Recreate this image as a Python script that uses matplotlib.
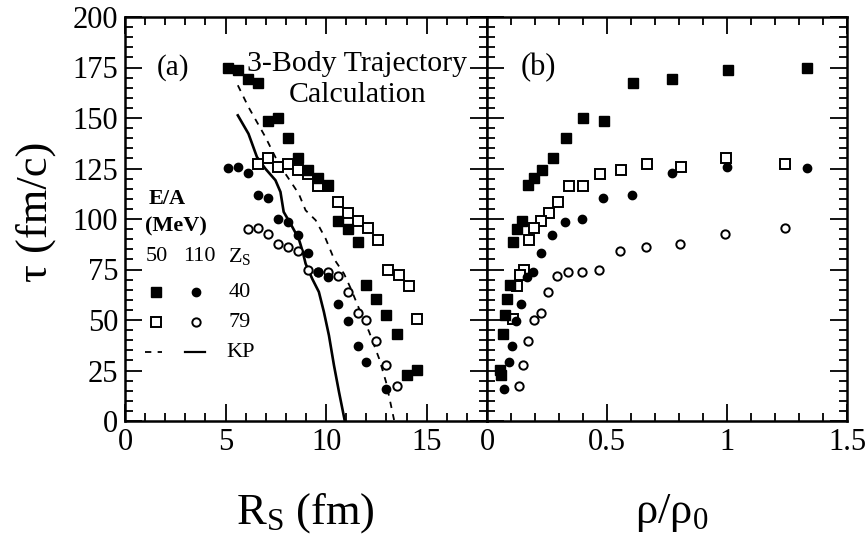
import numpy as np
import matplotlib.pyplot as plt
from matplotlib.ticker import MultipleLocator

plt.rcParams['font.family'] = 'Liberation Serif'
plt.rcParams['mathtext.fontset'] = 'custom'
plt.rcParams['mathtext.rm'] = 'Liberation Serif'
plt.rcParams['mathtext.it'] = 'Liberation Serif:italic'

# Z_S = 40, E/A = 50 MeV (filled squares)
R_sq40 = [5.1, 5.6, 6.1, 6.6, 7.1, 7.6, 8.1, 8.6, 9.1, 9.6, 10.1, 10.6, 11.1, 11.6,
          12.0, 12.5, 13.0, 13.5, 14.0, 14.5]
tau_sq40 = [174.9, 173.9, 169.5, 167.3, 148.5, 150.1, 140.2, 130.3, 124.4, 120.4,
            116.7, 99.0, 94.9, 88.6, 67.5, 60.5, 52.3, 43.2, 22.9, 25.1]
rho_sq40 = [1.334, 1.003, 0.772, 0.608, 0.487, 0.399, 0.330, 0.276, 0.231, 0.195,
            0.169, 0.146, 0.125, 0.108, 0.095, 0.084, 0.073, 0.066, 0.059, 0.053]

# Z_S = 40, E/A = 110 MeV (filled circles)
R_ci40 = [5.1, 5.6, 6.1, 6.6, 7.1, 7.6, 8.1, 8.6, 9.1, 9.6, 10.1, 10.6, 11.1, 11.6,
          12.0, 13.0]
tau_ci40 = [125.2, 125.7, 122.8, 111.7, 110.4, 100.0, 98.3, 92.3, 83.2, 74.0, 71.3,
            57.8, 49.5, 37.0, 29.2, 15.6]
rho_ci40 = [1.333, 1.001, 0.769, 0.605, 0.484, 0.397, 0.327, 0.272, 0.227, 0.190,
            0.166, 0.143, 0.122, 0.105, 0.091, 0.070]

# Z_S = 79, E/A = 50 MeV (open squares)
R_sq79 = [6.6, 7.1, 7.6, 8.1, 8.6, 9.1, 9.6, 10.1, 10.6, 11.1, 11.6, 12.1, 12.6,
          13.1, 13.6, 14.1, 14.5]
tau_sq79 = [127.1, 130.3, 125.7, 127.1, 124.5, 122.3, 116.2, 116.4, 108.4, 103.1,
            98.9, 95.7, 89.5, 74.9, 72.1, 66.7, 50.3]
rho_sq79 = [1.240, 0.997, 0.810, 0.667, 0.558, 0.470, 0.398, 0.341, 0.297, 0.258,
            0.225, 0.197, 0.174, 0.153, 0.137, 0.124, 0.109]

# Z_S = 79, E/A = 110 MeV (open circles); first point lies beyond rho/rho0 = 1.5
R_ci79 = [6.1, 6.6, 7.1, 7.6, 8.1, 8.6, 9.1, 9.6, 10.1, 10.6, 11.1, 11.6, 12.0,
          12.5, 13.0, 13.5]
tau_ci79 = [94.9, 95.7, 92.7, 87.4, 86.1, 84.3, 74.8, 73.8, 74.0, 72.0, 63.9, 53.3,
            49.9, 39.6, 27.6, 17.5]
rho_ci79 = [np.nan, 1.240, 0.991, 0.806, 0.664, 0.553, 0.466, 0.397, 0.338, 0.290,
            0.253, 0.223, 0.194, 0.170, 0.149, 0.132]

# KP curves
R_kp50 = [5.61, 6.14, 6.98, 7.64, 8.64, 8.98, 9.48, 9.98, 10.39, 10.89, 11.23, 11.64,
          12.14, 12.64, 12.98, 13.38]
tau_kp50 = [166.2, 155.4, 140.6, 127.4, 112.5, 104.3, 99.4, 90.2, 80.3, 72.9, 65.5,
            55.6, 44.1, 30.8, 19.3, 0.5]
R_kp110 = [5.61, 6.14, 6.56, 6.98, 7.48, 7.73, 7.89, 8.23, 8.64, 8.84, 8.98, 9.31,
           9.64, 9.89, 10.14, 10.39, 10.64, 10.93]
tau_kp110 = [151.3, 142.2, 130.7, 124.9, 119.2, 113.4, 103.5, 97.7, 90.2, 83.7, 77.9,
             70.4, 63.9, 54.0, 42.4, 27.6, 14.4, 0.0]

rho_ticks = [0, 0.5, 1, 1.5]
rho_tick_labels = ['0', '0.5', '1', '1.5']

sq_full = dict(marker='s', ms=6.5, mfc='black', mec='black', ls='none')
ci_full = dict(marker='o', ms=6, mfc='black', mec='black', ls='none')
sq_open = dict(marker='s', ms=6.5, mfc='white', mec='black', mew=1.4, ls='none')
ci_open = dict(marker='o', ms=6, mfc='white', mec='black', mew=1.4, ls='none')
dash_kw = dict(color='black', lw=1.3, ls=(0, (3.5, 3.5)))
solid_kw = dict(color='black', lw=1.9)

fig = plt.figure(figsize=(8.67, 5.46), dpi=100)
ax_a = fig.add_axes([125 / 867, 1 - 421 / 546, 362 / 867, 404 / 546])
ax_b = fig.add_axes([487 / 867, 1 - 421 / 546, 360 / 867, 404 / 546])

# (a) tau vs R_S
ax_a.plot(R_kp50, tau_kp50, **dash_kw)
ax_a.plot(R_kp110, tau_kp110, **solid_kw)
ax_a.plot(R_sq79, tau_sq79, **sq_open)
ax_a.plot(R_ci79, tau_ci79, **ci_open)
ax_a.plot(R_sq40, tau_sq40, **sq_full)
ax_a.plot(R_ci40, tau_ci40, **ci_full)

# (b) tau vs rho/rho0
ax_b.plot(rho_sq79, tau_sq79, **sq_open)
ax_b.plot(rho_ci79, tau_ci79, **ci_open)
ax_b.plot(rho_sq40, tau_sq40, **sq_full)
ax_b.plot(rho_ci40, tau_ci40, **ci_full)

ax_a.set_xlim(0, 18)
ax_b.set_xlim(0, 1.5)
for ax in (ax_a, ax_b):
    ax.set_ylim(0, 200)
    ax.yaxis.set_major_locator(MultipleLocator(25))
    ax.yaxis.set_minor_locator(MultipleLocator(5))
    ax.tick_params(which='both', direction='in', top=True, right=True,
                   labelsize=22, width=1.3, pad=5)
    ax.tick_params(which='major', length=12)
    ax.tick_params(which='minor', length=6)
    for sp in ax.spines.values():
        sp.set_linewidth(1.8)

ax_a.xaxis.set_major_locator(MultipleLocator(5))
ax_a.xaxis.set_minor_locator(MultipleLocator(1))
ax_a.set_xticks([0, 5, 10, 15])
ax_b.set_xticks(rho_ticks, rho_tick_labels)
ax_b.xaxis.set_minor_locator(MultipleLocator(0.1))
ax_b.tick_params(labelleft=False)

# panel texts
ax_a.text(2.4, 175, '(a)', fontsize=21, ha='center', va='center')
ax_a.text(11.55, 176.5, '3-Body Trajectory', fontsize=21.5, ha='center', va='center')
ax_a.text(11.55, 161.5, 'Calculation', fontsize=21.5, ha='center', va='center')
ax_b.text(0.215, 175, '(b)', fontsize=22, ha='center', va='center')

# key inside panel (a)
ax_a.text(2.1, 110, 'E/A', fontsize=16, fontweight='bold', ha='center', va='center')
ax_a.text(2.55, 96.5, '(MeV)', fontsize=16, fontweight='bold', ha='center', va='center')
ax_a.text(1.6, 81.2, '50', fontsize=16, ha='center', va='center')
ax_a.text(3.7, 81.2, '110', fontsize=16, ha='center', va='center')
ax_a.text(5.7, 81.2, 'Z$_\\mathrm{S}$', fontsize=16, ha='center', va='center')
ax_a.plot([1.55], [64], **sq_full)
ax_a.plot([3.55], [64], **ci_full)
ax_a.text(5.7, 63.5, '40', fontsize=16, ha='center', va='center')
ax_a.plot([1.55], [49], **sq_open)
ax_a.plot([3.55], [49], **ci_open)
ax_a.text(5.7, 48.6, '79', fontsize=16, ha='center', va='center')
ax_a.plot([1.0, 1.85], [34, 34], **dash_kw)
ax_a.plot([3.0, 4.0], [34, 34], color='black', lw=1.6)
ax_a.text(5.75, 33.8, 'KP', fontsize=16, ha='center', va='center')

# axis titles
fig.text(36 / 867, 1 - 212 / 546, '\u03c4 (fm/c)', fontsize=32, rotation=90,
         ha='center', va='center')
fig.text(305 / 867, 1 - 513 / 546, 'R$_\\mathrm{S}$ (fm)', fontsize=32,
         ha='center', va='center')
fig.text(672 / 867, 1 - 513 / 546, '\u03c1/\u03c1$_0$', fontsize=32,
         ha='center', va='center')

fig.savefig('out.png', dpi=100)
